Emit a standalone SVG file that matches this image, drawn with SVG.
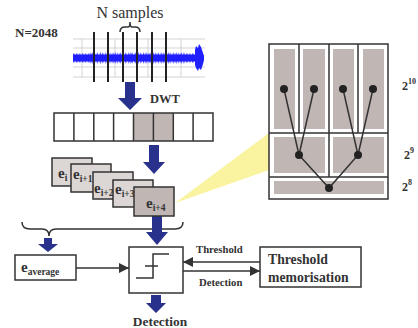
<svg xmlns="http://www.w3.org/2000/svg" width="418" height="328" viewBox="0 0 418 328">
<style>
.b{font-family:"Liberation Serif","Times New Roman",serif;font-weight:bold;fill:#333}
.r{font-family:"Liberation Serif","Times New Roman",serif;fill:#333}
.box{stroke:#333;stroke-width:1.5}
.grid{stroke:#c8c8c8;stroke-width:0.8;fill:none}
.arr{fill:#28328c}
.ln{stroke:#333;stroke-width:1.5;fill:none}
.gr{fill:#c0b7b5}
.lg{fill:#dcd6d4}
</style>
<defs>
<marker id="ah" viewBox="0 0 10 10" refX="10" refY="5" markerWidth="10" markerHeight="10" markerUnits="userSpaceOnUse" orient="auto">
<path d="M0,0 L10,5 L0,10 z" fill="#333"/>
</marker>
</defs>
<rect width="418" height="328" fill="#fff"/>

<g id="signal">
<text class="r" x="130" y="18" font-size="16" text-anchor="middle">N samples</text>
<path class="ln" stroke-width="1.2" d="M120,32 Q120,27 125,27 L128,27 Q130,27 130,22 Q130,27 132,27 L135,27 Q140,27 140,32"/>
<text class="b" x="15" y="37" font-size="13">N=2048</text>
<path class="grid" d="M73,39 H205 M73,48 H205 M73,67 H205 M73,77 H205 M82,39 V77 M115,39 V77 M148,39 V77 M181,39 V77"/>
<rect x="73" y="54.5" width="123" height="7" fill="#1f1fff"/>
<line x1="73" y1="58" x2="196" y2="58" stroke="#1f1fff" stroke-width="9" stroke-dasharray="0.6 0.9 0.4 1.2 0.8 0.7 0.5 1.0"/>
<line x1="90" y1="58" x2="185" y2="58" stroke="#1f1fff" stroke-width="11" stroke-dasharray="0.4 2.1 0.5 1.7 0.3 2.6"/>
<polygon fill="#1f1fff" points="195,54 195,50 196,46 198,48 199,44 201,47 202,50 203,53 204,56 204,60 203,64 202,67 201,70 199,68 198,71 196,68 195,65 195,62"/>
<path stroke="#222" stroke-width="2" d="M94,32 V82 M108,32 V82 M123,32 V82 M137,32 V82 M152,32 V82 M166,32 V82"/>
</g>

<g id="connectors">
<polygon class="arr" points="125,82 135,82 135,98 142,98 130,110 118,98 125,98"/>
<text class="b" x="150" y="103" font-size="12.5">DWT</text>
<polygon class="arr" points="149,145 159,145 159,162 165,162 154,174 143,162 149,162"/>
<path class="ln" stroke-width="1.2" d="M22,222 Q22,229 30,229 L42,229 Q49,229 49,236 Q49,229 56,229 L175,229 Q183,229 183,222"/>
<polygon class="arr" points="44,238 52,238 52,244 58,244 48,252 38,244 44,244"/>
<polygon class="arr" points="152,216 162,216 162,232 168,232 157,245 146,232 152,232"/>
<polygon class="arr" points="151,295 161,295 161,303 166,303 156,313 146,303 151,303"/>
<line class="ln" x1="76" y1="268" x2="129" y2="268" marker-end="url(#ah)"/>
<line class="ln" x1="260" y1="262" x2="183" y2="262" marker-end="url(#ah)"/>
<line class="ln" x1="183" y1="271" x2="260" y2="271" marker-end="url(#ah)"/>
<text class="b" x="196" y="253" font-size="10.7">Threshold</text>
<text class="b" x="199" y="286" font-size="10.7">Detection</text>
<text class="b" x="160" y="326" font-size="13.4" text-anchor="middle">Detection</text>
</g>

<g id="dwt-row">
<rect class="gr" x="133.5" y="113" width="39.8" height="28"/>
<rect class="box" x="54" y="113" width="159" height="28" fill="none"/>
<path class="ln" d="M73.9,113 V141 M93.8,113 V141 M113.6,113 V141 M133.5,113 V141 M153.4,113 V141 M173.3,113 V141 M193.1,113 V141"/>
</g>

<polygon id="beam" fill="#faf3a0" points="175,203 269,133 269,170"/>

<g id="e-i">
<rect class="box lg" x="52" y="158" width="40" height="28"/>
<text class="b" x="58" y="178" font-size="15">e<tspan font-size="9.5" dy="3">i</tspan></text>
</g>
<g id="e-i1">
<rect class="box lg" x="71" y="164" width="40" height="28"/>
<text class="b" x="73" y="179" font-size="15">e<tspan font-size="9.5" dy="3">i+1</tspan></text>
</g>
<g id="e-i2">
<rect class="box lg" x="93" y="172" width="40" height="27"/>
<text class="b" x="94" y="193" font-size="15">e<tspan font-size="9.5" dy="3">i+2</tspan></text>
</g>
<g id="e-i3">
<rect class="box lg" x="113" y="180" width="40" height="27"/>
<text class="b" x="115" y="194" font-size="15">e<tspan font-size="9.5" dy="3">i+3</tspan></text>
</g>
<g id="e-i4">
<rect class="box gr" x="134" y="187" width="40" height="29"/>
<text class="b" x="146" y="208" font-size="15">e<tspan font-size="9.5" dy="3">i+4</tspan></text>
</g>

<g id="tree">
<rect class="box" x="269" y="44" width="119" height="155" fill="#fff"/>
<path class="ln" d="M269,133 H388 M269,177 H388 M299,44 V133 M329,44 V177 M358,44 V133"/>
<rect class="gr" x="274" y="49" width="21" height="80"/>
<rect class="gr" x="303" y="49" width="22" height="80"/>
<rect class="gr" x="333" y="49" width="21" height="80"/>
<rect class="gr" x="363" y="49" width="21" height="80"/>
<rect class="gr" x="274" y="137" width="51" height="36"/>
<rect class="gr" x="333" y="137" width="51" height="36"/>
<rect class="gr" x="274" y="181" width="110" height="13"/>
<path class="ln" d="M284,89 L299,155 L314,89 M343,89 L358,155 L373,89 M299,155 L329,188 L358,155"/>
<g fill="#222">
<circle cx="284" cy="89" r="4"/><circle cx="314" cy="89" r="4"/><circle cx="343" cy="89" r="4"/><circle cx="373" cy="89" r="4"/>
<circle cx="299" cy="155" r="4"/><circle cx="358" cy="155" r="4"/><circle cx="329" cy="188" r="4"/>
</g>
<text class="b" x="402" y="90" font-size="12">2<tspan font-size="8" dy="-6">10</tspan></text>
<text class="b" x="404" y="159" font-size="12">2<tspan font-size="8" dy="-6">9</tspan></text>
<text class="b" x="402" y="191" font-size="12">2<tspan font-size="8" dy="-6">8</tspan></text>
</g>

<g id="e-average">
<rect class="box" x="15" y="255" width="61" height="25" fill="#fff"/>
<text class="b" x="21" y="272" font-size="15">e<tspan font-size="9.5" dy="3">average</tspan></text>
</g>

<g id="comparator">
<rect class="box" x="129" y="247" width="54" height="46" fill="#fff"/>
<path class="ln" d="M136,278 H153 V254 H169 M145,266 H158"/>
</g>

<g id="threshold-memorisation">
<rect class="box" x="260" y="247" width="101" height="40" fill="#fff"/>
<text class="b" x="268" y="264" font-size="13.7">Threshold</text>
<text class="b" x="268" y="282" font-size="13.7">memorisation</text>
</g>
</svg>
